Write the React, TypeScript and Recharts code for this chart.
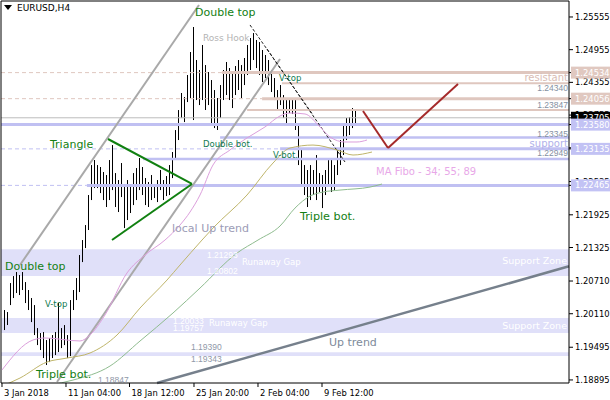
import React from 'react';
import {
  ComposedChart, Bar, Line, XAxis, YAxis, ReferenceLine, ReferenceArea, ReferenceDot,
} from 'recharts';

// ---------- axes ----------
const Y_MIN = 1.18839;
const Y_MAX = 1.25848;
const X_MIN = -0.333;
const X_MAX = 189;

const xTickPos = [0, 21.33, 42.5, 64, 85.33, 106.67];
const xTickLabels = ['3 Jan 2018', '11 Jan 04:00', '18 Jan 12:00', '25 Jan 20:00', '2 Feb 04:00', '9 Feb 12:00'];

const yTicks = [1.25555, 1.24955, 1.24355, 1.23755, 1.23155, 1.22535, 1.21925, 1.21325, 1.2071, 1.2011, 1.19495, 1.18895];
const markedPrices = [1.24534, 1.24056, 1.23705, 1.2358, 1.23135, 1.22465];
const markedKinds = ['res', 'res', 'cur', 'sup', 'sup', 'sup'];

// ---------- price bars (H4) ----------
const barHigh = [
  1.20178, 1.20141, 1.20673, 1.20801, 1.20875, 1.2082, 1.20875, 1.20691, 1.20545, 1.20398,
  1.20269, 1.19847, 1.19756, 1.19774, 1.19627, 1.19664, 1.19719, 1.19774, 1.20306, 1.19847,
  1.19902, 1.19719, 1.20361, 1.20545, 1.20765, 1.21187, 1.21462, 1.21737, 1.22288, 1.22838,
  1.2293, 1.22838, 1.22802, 1.2271, 1.22655, 1.2293, 1.23205, 1.22691, 1.22563, 1.22875,
  1.22435, 1.22563, 1.22471, 1.22691, 1.22783, 1.22967, 1.22802, 1.226, 1.22526, 1.22655,
  1.22471, 1.22563, 1.22747, 1.22563, 1.22636, 1.22838, 1.23077, 1.2348, 1.23847, 1.2416,
  1.24086, 1.2449, 1.24912, 1.25371, 1.24765, 1.24582, 1.25041, 1.24673, 1.24545, 1.24398,
  1.24214, 1.24068, 1.24306, 1.24582, 1.24729, 1.24618, 1.24545, 1.24655, 1.24765, 1.24673,
  1.24802, 1.25041, 1.25169, 1.2526, 1.25132, 1.25095, 1.24949, 1.24857, 1.24765, 1.24582,
  1.24435, 1.24214, 1.24306, 1.24123, 1.24031, 1.24068, 1.24031, 1.24031, 1.23572, 1.23114,
  1.22838, 1.22747, 1.22838, 1.22747, 1.23022, 1.22691, 1.22655, 1.22747, 1.2293, 1.22967,
  1.22838, 1.2315, 1.23297, 1.23572, 1.23701, 1.23719, 1.23884, 1.23848,
];
const barLow = [
  1.19811, 1.19903, 1.20269, 1.20398, 1.2049, 1.20453, 1.20545, 1.20306, 1.20178, 1.19957,
  1.19719, 1.19535, 1.19444, 1.19297, 1.19169, 1.19223, 1.19297, 1.19352, 1.19407, 1.1948,
  1.19535, 1.19297, 1.19333, 1.20178, 1.20361, 1.20508, 1.21058, 1.21315, 1.21646, 1.22196,
  1.22416, 1.22416, 1.22324, 1.22196, 1.22068, 1.22196, 1.22379, 1.22068, 1.21976, 1.22251,
  1.21682, 1.21829, 1.21958, 1.22104, 1.22196, 1.22379, 1.22288, 1.22104, 1.22068, 1.22196,
  1.22233, 1.22159, 1.22379, 1.22196, 1.22269, 1.22288, 1.22599, 1.22967, 1.23297, 1.23701,
  1.23627, 1.23994, 1.24068, 1.23664, 1.24031, 1.23939, 1.24031, 1.23848, 1.23939, 1.23572,
  1.23517, 1.23481, 1.23701, 1.24031, 1.24123, 1.24031, 1.23884, 1.24123, 1.24215, 1.24068,
  1.24306, 1.2449, 1.24582, 1.24765, 1.24618, 1.2449, 1.24361, 1.24435, 1.24306, 1.24178,
  1.24031, 1.23848, 1.23939, 1.23701, 1.23572, 1.23792, 1.23774, 1.23481, 1.22838, 1.22471,
  1.22288, 1.22068, 1.22196, 1.22288, 1.22196, 1.22343, 1.22049, 1.22288, 1.22471, 1.22343,
  1.22379, 1.22655, 1.22838, 1.23022, 1.23297, 1.23389, 1.23517, 1.23572,
];

// ---------- moving averages (bar index, price) ----------
const ma34: [number, number][] = [
  [0, 1.19078], [10.33, 1.19628], [14.33, 1.19665], [26, 1.1961], [29.33, 1.1972], [34.33, 1.20087],
  [41.67, 1.20858], [47.67, 1.21188], [54.33, 1.21462], [59.33, 1.21737], [62.67, 1.21976], [66, 1.22288],
  [70.33, 1.22839], [76, 1.23115], [81.67, 1.23335], [87.67, 1.23537], [92.67, 1.23738], [96, 1.23793],
  [101, 1.23775], [106, 1.23537], [109.33, 1.23353], [114.33, 1.23261], [118.33, 1.23261], [121.67, 1.23298],
];
const ma55: [number, number][] = [
  [0, 1.18783], [6, 1.1893], [15, 1.19224], [21.67, 1.19297], [29.33, 1.19389], [38.33, 1.19719],
  [46, 1.20214], [55, 1.20728], [59.33, 1.21003], [66.67, 1.21462], [70.33, 1.21682], [81.67, 1.22288],
  [90.33, 1.22875], [96, 1.2315], [103.67, 1.23205], [111.67, 1.23114], [117, 1.23022], [123.33, 1.23077],
];
const ma89: [number, number][] = [
  [16, 1.18801], [23.67, 1.18893], [36, 1.1915], [46, 1.19609], [57, 1.20123], [66, 1.20581],
  [78.33, 1.21223], [85.33, 1.21462], [92.67, 1.21719], [97.67, 1.22049], [102.67, 1.22269],
  [107, 1.22343], [112.67, 1.22379], [122.67, 1.22434], [126.67, 1.2249],
];

// ---------- drawn objects ----------
const zones: [number, number][] = [[1.20802, 1.21293], [1.19757, 1.20033], [1.19335, 1.19405]];
// [price, start index, kind]
const solidLevels: [number, number, string][] = [
  [1.24534, 73.3, 'resMajor'], [1.2434, 93.3, 'resMinor'], [1.24056, 86.7, 'resMajor'], [1.23847, 81.7, 'resMinor'],
  [1.2358, X_MIN, 'supMajor'], [1.23345, 72.7, 'supMinor'], [1.23135, 92.7, 'supMajor'], [1.22949, 47, 'supMinor'],
  [1.22465, 28.3, 'supMajor'],
];
// [price, end index, kind]
const dashedLevels: [number, number, string][] = [
  [1.24534, 73.3, 'res'], [1.24056, 86.7, 'res'], [1.23135, 92.7, 'sup'], [1.22465, 28.3, 'sup'],
];
const currentPrice = 1.23705;
// [x1, p1, x2, p2, kind]
const segments: [number, number, number, number, string][] = [
  [6, 1.21004, 65.67, 1.25775, 'channel'],
  [18.33, 1.18857, 92.67, 1.24784, 'channel'],
  [51.67, 1.18839, 189, 1.2098, 'uptrend'],
  [35.33, 1.23316, 63.33, 1.22491, 'triangle'],
  [36.67, 1.21463, 63.33, 1.22491, 'triangle'],
  [82.67, 1.25408, 103.67, 1.23757, 'hook'],
  [88.33, 1.24968, 114.33, 1.22894, 'hook'],
  [120.33, 1.2383, 128.67, 1.23151, 'zigzag'],
  [128.67, 1.23151, 152, 1.24326, 'zigzag'],
];

// [text, index, price, kind]
const annotations: [string, number, number, string][] = [
  ['Double top', 64.33, 1.25628, 'pattern'],
  ['Ross Hook', 67, 1.2517, 'hook'],
  ['V-top', 92.33, 1.24436, 'small'],
  ['Triangle', 16, 1.23206, 'pattern'],
  ['Double bot.', 67, 1.23225, 'small'],
  ['V-bot.', 90.33, 1.23023, 'small'],
  ['local Up trend', 56.67, 1.21665, 'trend'],
  ['Triple bot.', 99.33, 1.21885, 'patternL'],
  ['MA Fibo - 34; 55; 89', 124.67, 1.22711, 'ma'],
  ['Double top', 1, 1.20968, 'pattern'],
  ['V-top', 14.33, 1.20288, 'small'],
  ['Triple bot.', 11.33, 1.18986, 'patternL'],
  ['Up trend', 109, 1.19573, 'uptrend'],
  ['resistant', 188.67, 1.24436, 'res'],
  ['support', 188.67, 1.23225, 'sup'],
  ['1.24340', 188.67, 1.24252, 'lvl'],
  ['1.23847', 188.67, 1.2394, 'lvl'],
  ['1.23345', 188.67, 1.23408, 'lvl'],
  ['1.22949', 188.67, 1.23059, 'lvl'],
  ['1.21293', 68.33, 1.21188, 'gapnum'],
  ['Runaway Gap', 80, 1.21059, 'gap'],
  ['1.20802', 68.33, 1.20894, 'gapnum'],
  ['1.20033', 57, 1.19977, 'gapnum'],
  ['1.19757', 57, 1.19848, 'gapnum'],
  ['Runaway Gap', 69, 1.1994, 'gap'],
  ['1.19390', 63, 1.19499, 'graynum'],
  ['1.19343', 63, 1.19279, 'graynum'],
  ['1.18847', 32, 1.18893, 'graynum'],
  ['Support Zone', 188.33, 1.21078, 'zone'],
  ['Support Zone', 188.33, 1.19894, 'zone'],
];

// ---------- styles ----------
const DV = "'DejaVu Sans', sans-serif";
const LS = "'Liberation Sans', Arial, sans-serif";
const ROSE = '#dfc7bf';
const LAV = '#c0c0f2';
const ZONE = '#e0e0f9';
const GREEN = '#138013';
const AXIS_FONT = 8.4;

const levelStyle: Record<string, { stroke: string; w: number }> = {
  resMajor: { stroke: ROSE, w: 3 }, resMinor: { stroke: ROSE, w: 2 },
  supMajor: { stroke: LAV, w: 3 }, supMinor: { stroke: LAV, w: 2.5 },
  res: { stroke: ROSE, w: 1 }, sup: { stroke: LAV, w: 1 },
};
const segStyle: Record<string, { stroke: string; w: number; dash?: string }> = {
  channel: { stroke: '#a9a9a9', w: 2 },
  uptrend: { stroke: '#76808c', w: 2.5 },
  triangle: { stroke: '#108010', w: 2 },
  hook: { stroke: '#202020', w: 1, dash: '3 2' },
  zigzag: { stroke: '#a52a2a', w: 2 },
};
const textStyle: Record<string, { fill: string; size: number; font: string; anchor: string }> = {
  pattern: { fill: GREEN, size: 11, font: DV, anchor: 'start' },
  patternL: { fill: GREEN, size: 11.2, font: DV, anchor: 'start' },
  small: { fill: '#0f7a50', size: 8.5, font: DV, anchor: 'start' },
  hook: { fill: '#b4b4b4', size: 9, font: DV, anchor: 'start' },
  trend: { fill: '#9c9cb6', size: 11, font: DV, anchor: 'start' },
  uptrend: { fill: '#7d8a9a', size: 11, font: DV, anchor: 'start' },
  ma: { fill: '#e8a8e8', size: 10, font: DV, anchor: 'start' },
  res: { fill: '#d8bcb4', size: 10, font: DV, anchor: 'end' },
  sup: { fill: '#b0b0ea', size: 10, font: DV, anchor: 'end' },
  lvl: { fill: '#8490a2', size: 8.5, font: LS, anchor: 'end' },
  gapnum: { fill: '#ffffff', size: 8.5, font: LS, anchor: 'start' },
  gap: { fill: '#ffffff', size: 8.5, font: DV, anchor: 'start' },
  graynum: { fill: '#9098a8', size: 8.5, font: LS, anchor: 'start' },
  zone: { fill: '#ffffff', size: 9.5, font: DV, anchor: 'end' },
};
const markStyle: Record<string, { bg: string; fg: string }> = {
  res: { bg: '#e0c8c0', fg: '#ffffff' },
  cur: { bg: '#000000', fg: '#ffffff' },
  sup: { bg: '#c2c2f4', fg: '#ffffff' },
};

const barRows = barHigh.map((h, k) => ({ i: k + 1, range: [barLow[k], h] }));
const toPts = (arr: [number, number][]) => arr.map(([i, p]) => ({ i, p }));

const BarShape = (props: any) => {
  const { x, y, width, height } = props;
  if (x == null || y == null) return null;
  const cx = Math.round(x + width / 2 - 0.5);
  return <rect x={cx} y={y} width={1} height={Math.max(1, height)} fill="#000" />;
};

const YTick = (props: any) => {
  const { x, y, payload } = props;
  const v = payload.value;
  const idx = markedPrices.indexOf(v);
  const label = v.toFixed(5);
  if (idx >= 0) {
    const st = markStyle[markedKinds[idx]];
    return (
      <g>
        <rect x={x - 4} y={y - 6} width={44} height={12} fill={st.bg} />
        <text x={x} y={y} dominantBaseline="central" fontFamily={DV} fontSize={AXIS_FONT} fill={st.fg}>{label}</text>
      </g>
    );
  }
  return (
    <text x={x} y={y} dominantBaseline="central" fontFamily={DV} fontSize={AXIS_FONT} fill="#000">{label}</text>
  );
};

const XTick = (props: any) => {
  const { x, y, payload } = props;
  const k = xTickPos.indexOf(payload.value);
  return (
    <text x={x + 2} y={y + 7} fontFamily={DV} fontSize={AXIS_FONT} fill="#000" textAnchor="start">{xTickLabels[k]}</text>
  );
};

export default function App() {
  return (
    <div style={{ position: 'absolute', left: 0, top: 0, width: 610, height: 400, background: '#fff' }}>
      <ComposedChart width={610} height={400} data={barRows} margin={{ top: 1, right: 0, left: 1, bottom: 0 }}>
        <XAxis
          type="number" dataKey="i" domain={[X_MIN, X_MAX]} allowDataOverflow
          ticks={xTickPos} interval={0} tick={<XTick />} height={17} tickSize={4}
          axisLine={{ stroke: '#000' }} tickLine={{ stroke: '#000' }}
        />
        <YAxis
          orientation="right" type="number" domain={[Y_MIN, Y_MAX]} allowDataOverflow
          ticks={[...yTicks, ...markedPrices]} interval={0} tick={<YTick />} width={41} tickSize={4}
          axisLine={{ stroke: '#000' }} tickLine={{ stroke: '#000' }}
        />
        {zones.map(([lo, hi], k) => (
          <ReferenceArea key={'z' + k} y1={lo} y2={hi} fill={ZONE} fillOpacity={1} stroke="none" ifOverflow="visible" />
        ))}
        {dashedLevels.map(([p, to, kind], k) => (
          <ReferenceLine key={'d' + k} segment={[{ x: X_MIN, y: p }, { x: to, y: p }]}
            stroke={levelStyle[kind].stroke} strokeWidth={levelStyle[kind].w} strokeDasharray="4 3" ifOverflow="visible" />
        ))}
        {solidLevels.map(([p, from, kind], k) => (
          <ReferenceLine key={'s' + k} segment={[{ x: from, y: p }, { x: X_MAX, y: p }]}
            stroke={levelStyle[kind].stroke} strokeWidth={levelStyle[kind].w} ifOverflow="visible" />
        ))}
        <ReferenceLine y={currentPrice} stroke="#bdbdbd" strokeWidth={1} ifOverflow="visible" />
        <ReferenceLine y={Y_MAX} stroke="#000" strokeWidth={1} ifOverflow="visible" />
        <ReferenceLine x={X_MIN} stroke="#000" strokeWidth={1} ifOverflow="visible" />
        {segments.map(([x1, p1, x2, p2, kind], k) => (
          <ReferenceLine key={'g' + k} segment={[{ x: x1, y: p1 }, { x: x2, y: p2 }]}
            stroke={segStyle[kind].stroke} strokeWidth={segStyle[kind].w}
            strokeDasharray={segStyle[kind].dash} ifOverflow="visible" />
        ))}
        <Line data={toPts(ma34)} dataKey="p" type="monotone" stroke="#dc9fdc" strokeWidth={1} dot={false} isAnimationActive={false} />
        <Line data={toPts(ma55)} dataKey="p" type="monotone" stroke="#bfb56a" strokeWidth={1} dot={false} isAnimationActive={false} />
        <Line data={toPts(ma89)} dataKey="p" type="monotone" stroke="#8fbc8f" strokeWidth={1} dot={false} isAnimationActive={false} />
        <Bar dataKey="range" barSize={1} shape={<BarShape />} isAnimationActive={false} />
        {annotations.map(([t, i, p, kind], k) => {
          const st = textStyle[kind];
          return (
            <ReferenceDot key={'a' + k} x={i} y={p} r={0} ifOverflow="visible"
              shape={(sp: any) => (
                <text x={sp.cx} y={sp.cy} dominantBaseline="central" textAnchor={st.anchor}
                  fontFamily={st.font} fontSize={st.size} fill={st.fill}>{t}</text>
              )}
            />
          );
        })}
      </ComposedChart>
      <div style={{ position: 'absolute', left: 4, top: 3, display: 'flex', alignItems: 'center', fontFamily: DV, fontSize: 9, color: '#000' }}>
        <svg width={8} height={6} style={{ marginRight: 5 }}><polygon points="0,0 8,0 4,5" fill="#000" /></svg>
        <span>EURUSD,H4</span>
      </div>
    </div>
  );
}
